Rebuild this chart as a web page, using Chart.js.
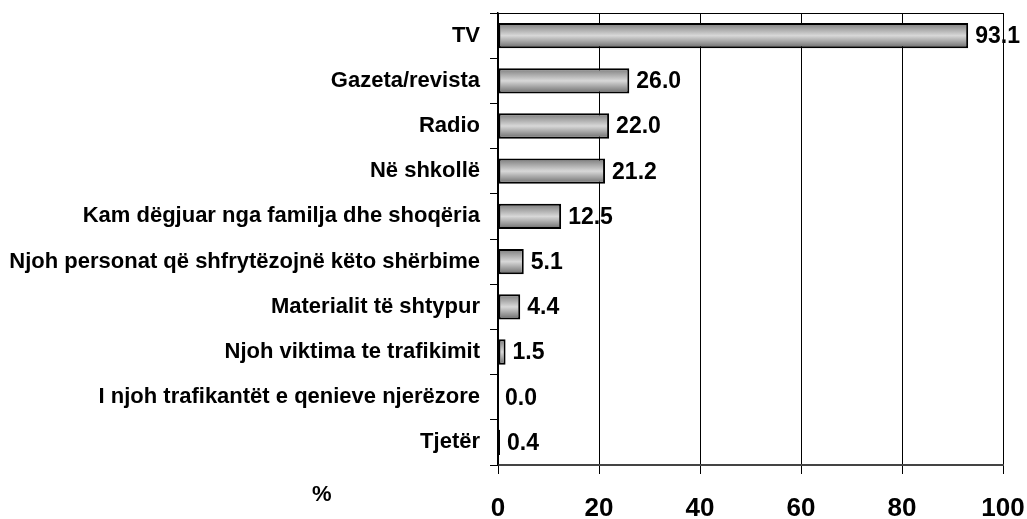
<!DOCTYPE html>
<html>
<head>
<meta charset="utf-8">
<script src="https://cdn.jsdelivr.net/npm/chart.js@4/dist/chart.umd.min.js"></script>
<style>
  html, body { margin: 0; padding: 0; background: #fff; }
  #wrap { position: relative; width: 1027px; height: 519px; overflow: hidden; }
  #pct { position: absolute; left: 312px; top: 481px; font: bold 22px "Liberation Sans", Arial, sans-serif; color: #000; }
</style>
</head>
<body>
<div id="wrap">
  <canvas id="c" width="1027" height="519"></canvas>
  <div id="pct">%</div>
</div>
<script>
const categories = [
  "TV",
  "Gazeta/revista",
  "Radio",
  "Në shkollë",
  "Kam dëgjuar nga familja dhe shoqëria",
  "Njoh personat që shfrytëzojnë këto shërbime",
  "Materialit të shtypur",
  "Njoh viktima te trafikimit",
  "I njoh trafikantët e qenieve njerëzore",
  "Tjetër"
];
const values = [93.1, 26.0, 22.0, 21.2, 12.5, 5.1, 4.4, 1.5, 0.0, 0.4];
const xTicks = [0, 20, 40, 60, 80, 100];

const FONT = '"Liberation Sans", Arial, sans-serif';

function barGradient(c) {
  const chart = c.chart;
  const ys = chart.scales && chart.scales.y;
  if (!ys || c.dataIndex === undefined || !chart.chartArea) return '#b0b0b0';
  const yc = ys.getPixelForValue(c.dataIndex);
  const h = 13;
  const g = chart.ctx.createLinearGradient(0, yc - h, 0, yc + h);
  g.addColorStop(0, '#777777');
  g.addColorStop(0.5, '#d8d8d8');
  g.addColorStop(1, '#666666');
  return g;
}

const valueLabels = {
  id: 'valueLabels',
  afterDatasetsDraw(chart) {
    const ctx = chart.ctx;
    const meta = chart.getDatasetMeta(0);
    ctx.save();
    ctx.font = 'bold 23px ' + FONT;
    ctx.fillStyle = '#000';
    ctx.textAlign = 'left';
    ctx.textBaseline = 'middle';
    meta.data.forEach((el, i) => {
      ctx.fillText(values[i].toFixed(1), el.x + 7, el.y + 1);
    });
    ctx.restore();
  }
};

const frameTop = {
  id: 'frameTop',
  beforeDatasetsDraw(chart) {
    const a = chart.chartArea;
    const ctx = chart.ctx;
    ctx.save();
    ctx.strokeStyle = '#000';
    ctx.lineWidth = 1;
    ctx.beginPath();
    ctx.moveTo(a.left, a.top + 0.5);
    ctx.lineTo(a.right, a.top + 0.5);
    ctx.stroke();
    ctx.restore();
  }
};

new Chart(document.getElementById('c'), {
  type: 'bar',
  data: {
    labels: categories,
    datasets: [{
      data: values,
      backgroundColor: barGradient,
      borderColor: '#000',
      borderWidth: 2,
      borderSkipped: false,
      categoryPercentage: 1,
      barPercentage: 0.56
    }]
  },
  options: {
    indexAxis: 'y',
    responsive: false,
    devicePixelRatio: 1,
    animation: false,
    layout: { padding: { top: 13, right: 24, left: 0, bottom: 0 } },
    plugins: { legend: { display: false }, tooltip: { enabled: false } },
    scales: {
      x: {
        type: 'linear',
        min: 0,
        max: 100,
        afterBuildTicks(scale) { scale.ticks = xTicks.map(v => ({ value: v })); },
        afterFit(scale) { scale.height = 54; scale.paddingLeft = 0; scale.paddingRight = 0; },
        grid: { color: '#000', lineWidth: 1, drawTicks: true, tickLength: 9, tickColor: '#000' },
        border: { color: '#444', width: 2 },
        ticks: { font: { family: FONT, size: 26, weight: 'bold' }, color: '#000', padding: 19, maxRotation: 0 }
      },
      y: {
        afterFit(scale) { scale.width = 498; scale.paddingTop = 0; scale.paddingBottom = 0; },
        grid: { drawOnChartArea: false, drawTicks: true, tickLength: 8, tickColor: '#000', offset: true },
        border: { color: '#000', width: 1.5 },
        ticks: { font: { family: FONT, size: 22, weight: 'bold' }, color: '#000', padding: 10, autoSkip: false }
      }
    }
  },
  plugins: [frameTop, valueLabels]
});
</script>
</body>
</html>
